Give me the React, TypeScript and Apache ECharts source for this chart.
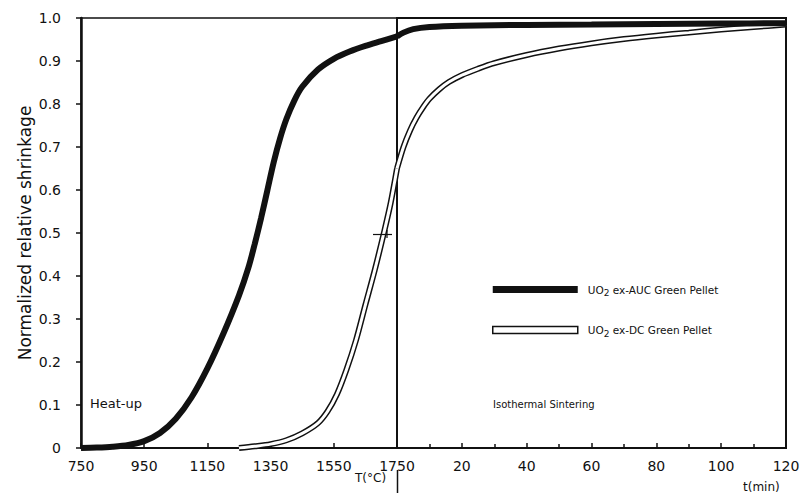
import React, { useEffect, useRef } from "react";
import * as echarts from "echarts";

// Heat-up part: temperature (°C) vs normalized relative shrinkage
const aucHeatT = [750, 800, 850, 900, 950, 1000, 1050, 1100, 1150, 1200, 1250, 1280, 1300, 1320, 1340, 1360, 1380, 1400, 1425, 1450, 1500, 1550, 1600, 1650, 1700, 1750];
const aucHeatV = [0, 0.001, 0.003, 0.007, 0.016, 0.035, 0.068, 0.118, 0.185, 0.265, 0.355, 0.42, 0.475, 0.535, 0.6, 0.665, 0.72, 0.765, 0.808, 0.84, 0.88, 0.905, 0.922, 0.935, 0.946, 0.957];
const dcHeatT = [1250, 1300, 1350, 1400, 1450, 1500, 1530, 1560, 1590, 1620, 1650, 1680, 1710, 1730, 1750];
const dcHeatV = [0, 0.004, 0.009, 0.018, 0.034, 0.058, 0.085, 0.125, 0.182, 0.25, 0.333, 0.415, 0.505, 0.57, 0.65];

// Isothermal part: time (min) vs normalized relative shrinkage
const aucIsoT = [0, 2, 5, 10, 20, 40, 60, 80, 100, 120];
const aucIsoV = [0.957, 0.966, 0.974, 0.979, 0.982, 0.984, 0.985, 0.986, 0.987, 0.988];
const dcIsoT = [0, 2, 4, 6, 8, 10, 13, 16, 20, 25, 30, 40, 50, 60, 70, 80, 90, 100, 110, 120];
const dcIsoV = [0.65, 0.7, 0.738, 0.768, 0.792, 0.812, 0.834, 0.851, 0.867, 0.882, 0.895, 0.914, 0.929, 0.941, 0.951, 0.959, 0.966, 0.973, 0.979, 0.985];

const AUC_NAME = "UO2 ex-AUC Green Pellet";
const DC_NAME = "UO2 ex-DC Green Pellet";
const Y_NAME = "Normalized relative shrinkage";

const FONT = "DejaVu Sans, Verdana, sans-serif";

const zip = (xs: number[], ys: number[]) => xs.map((x, i) => [x, ys[i]]);

export default function App() {
  const ref = useRef<HTMLDivElement>(null);
  useEffect(() => {
    if (!ref.current) return;
    const chart = echarts.init(ref.current, null, { renderer: "svg" });
    const axisLabel = { color: "#111", fontSize: 14, fontFamily: FONT };
    const lineBase = { type: "line", showSymbol: false, symbol: "none", smooth: 0.3, clip: true };
    chart.setOption({
      animation: false,
      backgroundColor: "#fff",
      grid: [
        { left: 81, right: 406, top: 18, bottom: 47, show: true, borderColor: "#111", borderWidth: 1.5, backgroundColor: "transparent" },
        { left: 397, right: 17, top: 18, bottom: 47, show: true, borderColor: "#111", borderWidth: 2, backgroundColor: "transparent" },
      ],
      xAxis: [
        {
          gridIndex: 0, type: "value", min: 750, max: 1750, interval: 200,
          axisLine: { show: true, lineStyle: { color: "#111", width: 2 } },
          axisTick: { show: true, inside: true, length: 5, lineStyle: { color: "#111", width: 1.5 } },
          axisLabel: { ...axisLabel, margin: 11, formatter: (v: number) => String(v) },
          splitLine: { show: false },
        },
        {
          gridIndex: 1, type: "value", min: 0, max: 120, interval: 20,
          axisLine: { show: true, lineStyle: { color: "#111", width: 2 } },
          axisTick: { show: true, inside: true, length: 5, lineStyle: { color: "#111", width: 1.5 } },
          minorTick: { show: true, splitNumber: 2, length: 4, lineStyle: { color: "#111", width: 1.5 } },
          axisLabel: { ...axisLabel, margin: 11, formatter: (v: number) => (v === 0 ? "" : String(v)) },
          splitLine: { show: false },
        },
      ],
      yAxis: [
        {
          gridIndex: 0, type: "value", min: 0, max: 1, interval: 0.1,
          name: Y_NAME, nameLocation: "middle", nameGap: 48, nameRotate: 90,
          nameTextStyle: { color: "#111", fontSize: 17, fontFamily: FONT },
          axisLine: { show: true, lineStyle: { color: "#111", width: 2.5 } },
          axisTick: { show: true, inside: false, length: 5, lineStyle: { color: "#111", width: 1.5 } },
          axisLabel: { ...axisLabel, margin: 20, formatter: (v: number) => (v === 0 ? "0" : v.toFixed(1)) },
          splitLine: { show: false },
        },
        {
          gridIndex: 1, type: "value", min: 0, max: 1, interval: 0.1,
          axisLine: { show: false }, axisTick: { show: false }, axisLabel: { show: false }, splitLine: { show: false },
        },
      ],
      legend: {
        left: 492, top: 284, orient: "vertical", icon: "rect",
        itemWidth: 85, itemHeight: 7, itemGap: 27, padding: 0,
        selectedMode: false,
        data: [
          { name: AUC_NAME, itemStyle: { color: "#111", borderWidth: 0 } },
          { name: DC_NAME, itemStyle: { color: "#fff", borderColor: "#111", borderWidth: 1.5 } },
        ],
        formatter: (name: string) => name.replace("UO2", "UO{s|2}"),
        textStyle: {
          color: "#111", fontSize: 10.5, fontFamily: FONT, padding: [0, 0, 0, 5],
          rich: { s: { fontSize: 9, fontFamily: FONT, color: "#111", padding: [7, 0, 0, 0] } },
        },
      },
      series: [
        { ...lineBase, name: DC_NAME, xAxisIndex: 0, yAxisIndex: 0, data: zip(dcHeatT, dcHeatV), lineStyle: { color: "#111", width: 6 }, itemStyle: { color: "#111" }, z: 2 },
        { ...lineBase, name: "dc-inner-heat", xAxisIndex: 0, yAxisIndex: 0, data: zip(dcHeatT, dcHeatV), lineStyle: { color: "#fff", width: 3 }, itemStyle: { color: "#fff" }, z: 3 },
        { ...lineBase, name: DC_NAME, xAxisIndex: 1, yAxisIndex: 1, data: zip(dcIsoT, dcIsoV), lineStyle: { color: "#111", width: 6 }, itemStyle: { color: "#111" }, z: 2 },
        { ...lineBase, name: "dc-inner-iso", xAxisIndex: 1, yAxisIndex: 1, data: zip(dcIsoT, dcIsoV), lineStyle: { color: "#fff", width: 3 }, itemStyle: { color: "#fff" }, z: 3 },
        { ...lineBase, name: AUC_NAME, xAxisIndex: 0, yAxisIndex: 0, data: zip(aucHeatT, aucHeatV), lineStyle: { color: "#111", width: 6 }, itemStyle: { color: "#111" }, z: 4 },
        { ...lineBase, name: AUC_NAME, xAxisIndex: 1, yAxisIndex: 1, data: zip(aucIsoT, aucIsoV), lineStyle: { color: "#111", width: 6 }, itemStyle: { color: "#111" }, z: 4 },
      ],
      graphic: [
        { type: "text", left: 90, top: 397, style: { text: "Heat-up", fill: "#111", fontSize: 13, fontFamily: FONT } },
        { type: "text", left: 493, top: 399, style: { text: "Isothermal Sintering", fill: "#111", fontSize: 10, fontFamily: FONT } },
        { type: "text", left: 355, top: 472, style: { text: "T(°C)", fill: "#111", fontSize: 12, fontFamily: FONT } },
        { type: "text", left: 743, top: 481, style: { text: "t(min)", fill: "#111", fontSize: 12, fontFamily: FONT } },
        { type: "line", shape: { x1: 397.5, y1: 470, x2: 397.5, y2: 493 }, style: { stroke: "#111", lineWidth: 1.5 } },
        { type: "line", shape: { x1: 373, y1: 234.5, x2: 392, y2: 234.5 }, style: { stroke: "#111", lineWidth: 1.2 }, z: 10 },
        { type: "line", shape: { x1: 387, y1: 230, x2: 387, y2: 238 }, style: { stroke: "#111", lineWidth: 1.2 }, z: 10 },
      ],
    });
    return () => chart.dispose();
  }, []);
  return <div ref={ref} style={{ position: "absolute", left: 0, top: 0, width: 803, height: 495 }} />;
}
